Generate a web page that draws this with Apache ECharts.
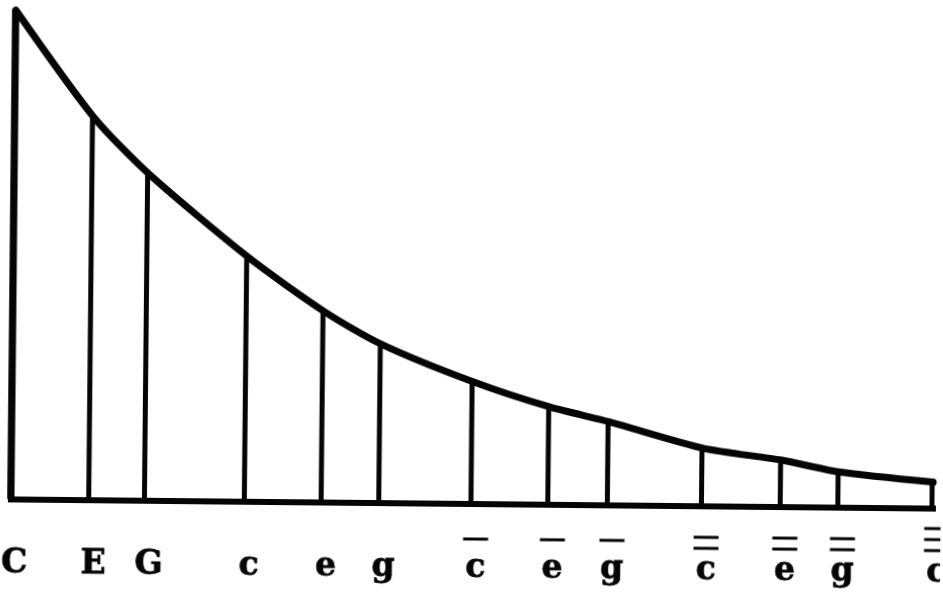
<!DOCTYPE html>
<html>
<head>
<meta charset="utf-8">
<script src="https://cdn.jsdelivr.net/npm/echarts@6/dist/echarts.min.js"></script>
<style>
  html, body { margin: 0; padding: 0; background: #fff; }
  #chart { width: 943px; height: 593px; transform: rotate(0.57deg); transform-origin: 50% 50%; }
</style>
</head>
<body>
<div id="chart"></div>
<script>
// Note positions along the axis (in semitones from C)
const notePos = [0, 4.1, 7, 12.2, 16.2, 19.2, 24, 28, 31.1, 36, 40.1, 43.1, 48];
// Relative string length at each note (C = 1)
const lengths = [1, 0.783, 0.668, 0.500, 0.390, 0.324, 0.249, 0.199, 0.170, 0.118, 0.095, 0.072, 0.053];
// Tick label letters and number of octave bars over each
const noteLetters = ['C', 'E', 'G', 'c', 'e', 'g', 'c', 'e', 'g', 'c', 'e', 'g', 'c'];
const noteBars = [0, 0, 0, 0, 0, 0, 1, 1, 1, 2, 2, 2, 3];

const ink = '#050505';
const points = notePos.map((x, i) => [x, lengths[i]]);

function labelFor(v) {
  let idx = notePos.indexOf(v);
  if (idx < 0) {
    let best = 0;
    notePos.forEach((p, i) => { if (Math.abs(p - v) < Math.abs(notePos[best] - v)) best = i; });
    idx = best;
  }
  const L = noteLetters[idx];
  const n = noteBars[idx];
  if (n === 0) return '{g11| }\n{g11| }\n{g11| }\n{n|' + L + '}';
  if (n === 1) return '{g15| }\n{bar| }\n{g7| }\n{n|' + L + '}';
  if (n === 2) return '{g11| }\n{bar| }\n{bar| }\n{n|' + L + '}';
  return '{bar| }\n{bar| }\n{bar| }\n{n|' + L + '}';
}

const chart = echarts.init(document.getElementById('chart'), null, { renderer: 'canvas' });
chart.setOption({
  animation: false,
  backgroundColor: '#ffffff',
  grid: { left: 13, right: 8, top: 14.6, bottom: 89.5, containLabel: false, outerBoundsMode: 'none' },
  xAxis: {
    type: 'value', min: 0, max: 48,
    splitLine: { show: false },
    axisTick: { show: false },
    axisLine: { show: true, onZero: false, lineStyle: { color: ink, width: 6, cap: 'square' } },
    axisLabel: {
      show: true,
      customValues: notePos,
      showMinLabel: true, showMaxLabel: true,
      margin: 15,
      padding: [0, 0, 0, 8],
      formatter: labelFor,
      rich: {
        g11: { lineHeight: 11, fontSize: 1 },
        g15: { lineHeight: 15, fontSize: 1 },
        g7: { lineHeight: 7, fontSize: 1 },
        bar: { width: 25, height: 3, lineHeight: 11, fontSize: 1, backgroundColor: ink, align: 'center' },
        n: { fontFamily: 'DejaVu Serif', fontWeight: 'bold', fontSize: 33, lineHeight: 34, color: ink,
             textBorderColor: ink, textBorderWidth: 0.8, align: 'center' }
      }
    }
  },
  yAxis: { type: 'value', min: 0, max: 1, show: false },
  series: [
    {
      type: 'bar', data: points, barWidth: 5, clip: false,
      itemStyle: { color: ink }, silent: true
    },
    {
      type: 'bar', data: points.slice(0, 1), barWidth: 7, barGap: '-100%', clip: false,
      itemStyle: { color: ink }, silent: true
    },
    {
      type: 'line', data: points, smooth: 0.25, showSymbol: false, clip: false,
      lineStyle: { color: ink, width: 7, cap: 'round', join: 'round' }, silent: true
    }
  ]
});
</script>
</body>
</html>
